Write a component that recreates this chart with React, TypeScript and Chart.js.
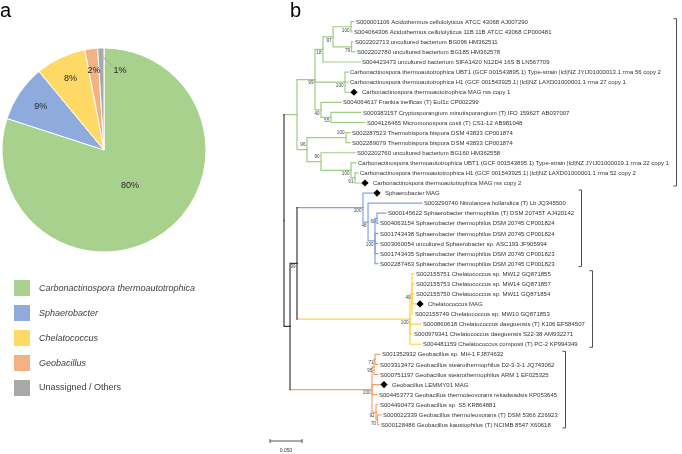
import React, { useEffect, useRef } from "react";
import { Chart, registerables } from "chart.js";

Chart.register(...registerables);

// ---------- Panel a: composition ----------
const pieCategories = [
  "Carbonactinospora thermoautotrophica",
  "Sphaerobacter",
  "Chelatococcus",
  "Geobacillus",
  "Unassigned / Others",
];
const pieValues = [80, 9, 8, 2, 1];
const pieItalic = [true, true, true, true, false];
const pieColors = ["#A9D18E", "#8FAADC", "#FFD966", "#F4B183", "#A9A9A9"];

// ---------- Panel b: phylogenetic tree ----------
const leafLabels = [
  "S000001106 Acidothermus cellulolyticus ATCC 43068 AJ007290",
  "S004064306 Acidothermus cellulolyticus 11B 11B ATCC 43068 CP000481",
  "S002202713 uncultured bacterium BG096 HM362511",
  "S002202780 uncultured bacterium BG185 HM362578",
  "S004423473 uncultured bacterium SIFA1420 N12D4 16S B LN567709",
  "Carbonactinospora thermoautotrophica UBT1 (GCF 001543895.1) Type-strain |lcl|NZ JYIJ01000013.1 rrna 56 copy 2",
  "Carbonactinospora thermoautotrophica H1 (GCF 001543925.1) |lcl|NZ LAXD01000001.1 rrna 27 copy 1",
  "Carbonactinospora thermoautotrophica MAG rss copy 1",
  "S004064617 Frankia inefficax (T) EuI1c CP002299",
  "S000383157 Cryptosporangium minutisporangium (T) IFO 15962T AB037007",
  "S004126465 Micromonospora costi (T) CS1-12 AB981048",
  "S002287523 Thermobispora bispora DSM 43833 CP001874",
  "S002289079 Thermobispora bispora DSM 43833 CP001874",
  "S002202760 uncultured bacterium BG160 HM362558",
  "Carbonactinospora thermoautotrophica UBT1 (GCF 001543895.1) Type-strain |lcl|NZ JYIJ01000019.1 rrna 22 copy 1",
  "Carbonactinospora thermoautotrophica H1 (GCF 001543925.1) |lcl|NZ LAXD01000001.1 rrna 52 copy 2",
  "Carbonactinospora thermoautotrophica MAG rss copy 2",
  "Sphaerobacter MAG",
  "S003290740 Nitrolancea hollandica (T) Lb JQ345500",
  "S000145622 Sphaerobacter thermophilus (T) DSM 20745T AJ420142",
  "S004063154 Sphaerobacter thermophilus DSM 20745 CP001824",
  "S001743438 Sphaerobacter thermophilus DSM 20745 CP001824",
  "S003060054 uncultured Sphaerobacter sp. ASC193 JF905994",
  "S001743435 Sphaerobacter thermophilus DSM 20745 CP001823",
  "S002287463 Sphaerobacter thermophilus DSM 20745 CP001823",
  "S002155751 Chelatococcus sp. MW12 GQ871855",
  "S002155753 Chelatococcus sp. MW14 GQ871857",
  "S002155750 Chelatococcus sp. MW11 GQ871854",
  "Chelatococcus MAG",
  "S002155749 Chelatococcus sp. MW10 GQ871853",
  "S000860618 Chelatococcus daeguensis (T) K106 EF584507",
  "S000979341 Chelatococcus daeguensis S22-38 AM932271",
  "S004481159 Chelatococcus composti (T) PC-2 KP994349",
  "S001352932 Geobacillus sp. MH-1 FJ874632",
  "S003313472 Geobacillus stearothermophilus D2-3-3-1 JQ743062",
  "S000751197 Geobacillus stearothermophilus ARM 1 EF025325",
  "Geobacillus LEMMY01 MAG",
  "S004453773 Geobacillus thermoleovorans rekadwadsis KP053645",
  "S004490473 Geobacillus sp. S5 KR864881",
  "S000022339 Geobacillus thermoleovorans (T) DSM 5366 Z26923",
  "S000128486 Geobacillus kaustophilus (T) NCIMB 8547 X60618",
];

// distance of each tip from the root (substitutions per site)
const leafDepths = [
  0.1094, 0.1063, 0.1078, 0.1109, 0.1188, 0.1, 0.1, 0.1031, 0.0891, 0.1203,
  0.1266, 0.1031, 0.1031, 0.1109, 0.1125, 0.1156, 0.1203, 0.1391, 0.2156, 0.1594,
  0.1469, 0.1469, 0.1469, 0.1469, 0.1469, 0.2031, 0.2031, 0.2031, 0.2063, 0.2016,
  0.2141, 0.2, 0.2141, 0.15, 0.1469, 0.1469, 0.15, 0.1453, 0.1469, 0.1516, 0.1484,
];

// leaves that are MAGs (black diamond)
const magLeaves = [7, 16, 17, 28, 36];

// clades: first leaf, last leaf
const cladeRanges = [
  [0, 16],
  [17, 24],
  [25, 32],
  [33, 40],
];
const cladeColors = ["#9fcd84", "#86a2da", "#ffd04c", "#f3a370"];

// internal nodes: name, children (leaf index or node name), depth, bootstrap
const innerNodes: [string, (number | string)[], number, number | null][] = [
  ["nAB", [0, 1], 0.1047, 100],
  ["nCD", [2, 3], 0.1055, 79],
  ["n97", ["nAB", "nCD"], 0.0766, 97],
  ["n18", ["n97", 4], 0.0609, 18],
  ["nC1", [5, 6, 7], 0.0953, 100],
  ["n55", [9, 10], 0.0734, 55],
  ["n40", [8, "n55"], 0.0578, 40],
  ["nGU", ["n18", "nC1", "n40"], 0.0484, 99],
  ["nT", [11, 12], 0.0969, 100],
  ["nC2a", [15, 16], 0.1109, 91],
  ["nC2", [14, "nC2a"], 0.1047, 100],
  ["n90", [13, "nC2"], 0.0578, 90],
  ["n96", ["nT", "n90"], 0.0359, 96],
  ["nG", ["nGU", "n96"], 0.0203, null],
  ["nB2", [19, 20], 0.1453, 60],
  ["nB3", ["nB2", 21, 22, 23, 24], 0.1422, 100],
  ["nB1", [18, "nB3"], 0.1313, 48],
  ["nB0", [17, "nB1"], 0.1234, 100],
  ["nY1", [25, 26, 27, 28, 29], 0.2, 40],
  ["nY0", ["nY1", 30, 31, 32], 0.1969, 100],
  ["nO71", [33, 34], 0.1422, 71],
  ["nO95", ["nO71", 35], 0.1406, 95],
  ["nO70", [39, 40], 0.1461, 70],
  ["nO92", [38, "nO70"], 0.1438, 92],
  ["nO0", ["nO95", 36, 37, "nO92"], 0.1375, 100],
  ["nBY", ["nB0", "nY0"], 0.0203, 99],
  ["nBYO", ["nBY", "nO0"], 0.0094, null],
  ["root", ["nG", "nBYO"], 0, null],
];
// bootstrap values printed above (instead of below) their node
const supportAbove = ["nT", "n90", "n96"];

const scaleBarLength = 0.05;
const scaleBarLabel = "0.050";

// ---------- layout (pixels) ----------
const W = 682;
const H = 454;
const PIE_W = 230;
const TREE_LEFT = 230;
const TREE_W = W - TREE_LEFT;
const PX_PER_UNIT = 640;
const ROOT_PX = 284 - TREE_LEFT;
const SCALEBAR_PX = 270 - TREE_LEFT;
const LEAF_Y0 = 21.7;
const LEAF_DY = 10.08;
const FONT = "'Liberation Sans', Arial, Helvetica, sans-serif";

function PiePanel() {
  const ref = useRef<HTMLCanvasElement | null>(null);
  useEffect(() => {
    const total = pieValues.reduce((a, b) => a + b, 0);
    const labelRadius = [0.435, 0.75, 0.77, 0.79];
    const textPlugin = {
      id: "pieText",
      afterDraw(chart: any) {
        const ctx = chart.ctx as CanvasRenderingContext2D;
        const meta = chart.getDatasetMeta(0);
        ctx.save();
        ctx.fillStyle = "#262626";
        ctx.font = `9px ${FONT}`;
        ctx.textAlign = "center";
        ctx.textBaseline = "middle";
        meta.data.forEach((arc: any, i: number) => {
          const p = arc.getProps(["x", "y", "startAngle", "endAngle", "outerRadius"], true);
          const mid = (p.startAngle + p.endAngle) / 2;
          const pct = Math.round((pieValues[i] / total) * 100) + "%";
          if (i < labelRadius.length) {
            const r = p.outerRadius * labelRadius[i];
            ctx.fillText(pct, p.x + Math.cos(mid) * r, p.y + Math.sin(mid) * r);
          } else {
            const r = p.outerRadius * 0.91;
            const sx = p.x + Math.cos(mid) * r + 2;
            const sy = p.y + Math.sin(mid) * r;
            const ex = sx + 9.5;
            const ey = sy + 8.5;
            ctx.strokeStyle = "#A6A6A6";
            ctx.lineWidth = 1;
            ctx.beginPath();
            ctx.moveTo(sx, sy);
            ctx.lineTo(ex, ey);
            ctx.stroke();
            ctx.textAlign = "left";
            ctx.fillText(pct, ex + 1, ey + 4.5);
            ctx.textAlign = "center";
          }
        });
        // legend
        pieCategories.forEach((name, i) => {
          const cy = 288 + 25 * i;
          ctx.fillStyle = pieColors[i];
          ctx.fillRect(14, cy - 8, 16, 16);
          ctx.fillStyle = "#404040";
          ctx.textAlign = "left";
          ctx.textBaseline = "middle";
          ctx.font = `${pieItalic[i] ? "italic " : ""}9px ${FONT}`;
          ctx.fillText(name, 39, cy);
        });
        // panel letter
        ctx.fillStyle = "#000";
        ctx.font = `20px ${FONT}`;
        ctx.textBaseline = "alphabetic";
        ctx.fillText("a", 0, 17);
        ctx.restore();
      },
    };
    const chart = new Chart(ref.current as HTMLCanvasElement, {
      type: "pie",
      data: {
        labels: pieCategories,
        datasets: [
          {
            data: pieValues,
            backgroundColor: pieColors,
            borderColor: "#ffffff",
            borderWidth: 1,
          },
        ],
      },
      options: {
        animation: false,
        responsive: false,
        maintainAspectRatio: false,
        radius: 102,
        layout: { padding: { left: 2, right: PIE_W - 206, top: 48, bottom: H - 252 } },
        plugins: { legend: { display: false }, tooltip: { enabled: false } },
      } as any,
      plugins: [textPlugin],
    });
    return () => chart.destroy();
  }, []);
  return (
    <canvas
      ref={ref}
      width={PIE_W}
      height={H}
      style={{ position: "absolute", left: 0, top: 0, width: PIE_W, height: H }}
    />
  );
}

type TNode = { name: string; depth: number; y: number; leaves: number[]; children: TNode[]; support: number | null; leaf: number | null };

function buildTree() {
  const map: Record<string, TNode> = {};
  const leafNode = (i: number): TNode => ({ name: "L" + i, depth: leafDepths[i], y: i, leaves: [i], children: [], support: null, leaf: i });
  innerNodes.forEach(([name, kids, depth, support]) => {
    const children = kids.map((k) => (typeof k === "number" ? leafNode(k) : map[k]));
    const y = (children[0].y + children[children.length - 1].y) / 2;
    const leaves = children.flatMap((c) => c.leaves);
    map[name] = { name, depth, y, leaves, children, support, leaf: null };
  });
  return map;
}

function cladeOf(leaves: number[]) {
  return cladeRanges.findIndex(([a, b]) => leaves.every((l) => l >= a && l <= b));
}

function TreePanel() {
  const ref = useRef<HTMLCanvasElement | null>(null);
  useEffect(() => {
    const nodes = buildTree();
    const colorOf = (n: TNode) => {
      const c = cladeOf(n.leaves);
      return c >= 0 ? cladeColors[c] : "#3a3a3a";
    };
    const datasets: any[] = [];
    const seg = (pts: { x: number; y: number }[], color: string) =>
      datasets.push({
        data: pts,
        showLine: true,
        borderColor: color,
        borderWidth: 1.2,
        pointRadius: 0,
        fill: false,
        tension: 0,
        borderCapStyle: "square",
      });
    Object.values(nodes).forEach((n) => {
      n.children.forEach((c) => {
        const pc = colorOf(n);
        const cc = colorOf(c);
        if (pc === cc) {
          seg([{ x: n.depth, y: n.y }, { x: n.depth, y: c.y }, { x: c.depth, y: c.y }], cc);
        } else {
          seg([{ x: n.depth, y: n.y }, { x: n.depth, y: c.y }], pc);
          seg([{ x: n.depth, y: c.y }, { x: c.depth, y: c.y }], cc);
        }
      });
    });
    const xMin = -ROOT_PX / PX_PER_UNIT;
    const xMax = xMin + TREE_W / PX_PER_UNIT;
    const yMin = -LEAF_Y0 / LEAF_DY;
    const yMax = yMin + H / LEAF_DY;

    // scale bar
    const sbY = (441 - LEAF_Y0) / LEAF_DY;
    const sbStart = xMin + SCALEBAR_PX / PX_PER_UNIT;
    datasets.push({
      data: [{ x: sbStart, y: sbY }, { x: sbStart + scaleBarLength, y: sbY }],
      showLine: true,
      borderColor: "#555",
      borderWidth: 1,
      pointRadius: 0,
    });

    const textPlugin = {
      id: "treeText",
      afterDatasetsDraw(chart: any) {
        const ctx = chart.ctx as CanvasRenderingContext2D;
        const xs = chart.scales.x;
        const ys = chart.scales.y;
        ctx.save();
        // leaf labels + diamonds
        ctx.font = `6px ${FONT}`;
        ctx.textBaseline = "middle";
        ctx.textAlign = "left";
        const ends: number[] = [];
        leafLabels.forEach((lab, i) => {
          const tx = xs.getPixelForValue(leafDepths[i]);
          const ty = ys.getPixelForValue(i);
          const mag = magLeaves.includes(i);
          if (mag) {
            const cx = tx + 4;
            ctx.fillStyle = "#000";
            ctx.beginPath();
            ctx.moveTo(cx, ty - 3.6);
            ctx.lineTo(cx + 3.6, ty);
            ctx.lineTo(cx, ty + 3.6);
            ctx.lineTo(cx - 3.6, ty);
            ctx.closePath();
            ctx.fill();
          }
          const lx = tx + (mag ? 12 : 2);
          ctx.fillStyle = "#333";
          ctx.fillText(lab, lx, ty + 0.5);
          ends[i] = lx + ctx.measureText(lab).width;
        });
        // bootstrap values
        ctx.font = `4.6px ${FONT}`;
        ctx.fillStyle = "#444";
        ctx.textAlign = "right";
        Object.values(nodes).forEach((n) => {
          if (n.support === null) return;
          const dy = supportAbove.includes(n.name) ? -4.5 : 3.5;
          ctx.fillText(String(n.support), xs.getPixelForValue(n.depth) - 1.5, ys.getPixelForValue(n.y) + dy);
        });
        // clade brackets
        ctx.strokeStyle = "#4d4d4d";
        ctx.lineWidth = 1;
        cladeRanges.forEach(([a, b]) => {
          const bx = Math.round(Math.min(Math.max(...ends.slice(a, b + 1)) + 7, TREE_W - 3)) + 0.5;
          const y1 = ys.getPixelForValue(a) - 3;
          const y2 = ys.getPixelForValue(b) + 3;
          ctx.beginPath();
          ctx.moveTo(bx - 3, y1);
          ctx.lineTo(bx, y1);
          ctx.lineTo(bx, y2);
          ctx.lineTo(bx - 3, y2);
          ctx.stroke();
        });
        // scale bar label and end ticks
        const s0 = xs.getPixelForValue(sbStart);
        const s1 = xs.getPixelForValue(sbStart + scaleBarLength);
        const sy = ys.getPixelForValue(sbY);
        ctx.strokeStyle = "#555";
        ctx.beginPath();
        ctx.moveTo(s0, sy - 2);
        ctx.lineTo(s0, sy + 2);
        ctx.moveTo(s1, sy - 2);
        ctx.lineTo(s1, sy + 2);
        ctx.stroke();
        ctx.font = `5px ${FONT}`;
        ctx.fillStyle = "#333";
        ctx.textAlign = "center";
        ctx.fillText(scaleBarLabel, (s0 + s1) / 2, sy + 10);
        // panel letter
        ctx.fillStyle = "#000";
        ctx.font = `20px ${FONT}`;
        ctx.textAlign = "left";
        ctx.textBaseline = "alphabetic";
        ctx.fillText("b", 290 - TREE_LEFT, 17);
        ctx.restore();
      },
    };

    const chart = new Chart(ref.current as HTMLCanvasElement, {
      type: "scatter",
      data: { datasets },
      options: {
        animation: false,
        responsive: false,
        maintainAspectRatio: false,
        layout: { padding: 0 },
        scales: {
          x: { type: "linear", min: xMin, max: xMax, display: false },
          y: { type: "linear", min: yMin, max: yMax, reverse: true, display: false },
        },
        plugins: { legend: { display: false }, tooltip: { enabled: false } },
      } as any,
      plugins: [textPlugin],
    });
    return () => chart.destroy();
  }, []);
  return (
    <canvas
      ref={ref}
      width={TREE_W}
      height={H}
      style={{ position: "absolute", left: TREE_LEFT, top: 0, width: TREE_W, height: H }}
    />
  );
}

export default function App() {
  return (
    <div style={{ position: "fixed", left: 0, top: 0, width: W, height: H, background: "#fff", overflow: "hidden" }}>
      <PiePanel />
      <TreePanel />
    </div>
  );
}
